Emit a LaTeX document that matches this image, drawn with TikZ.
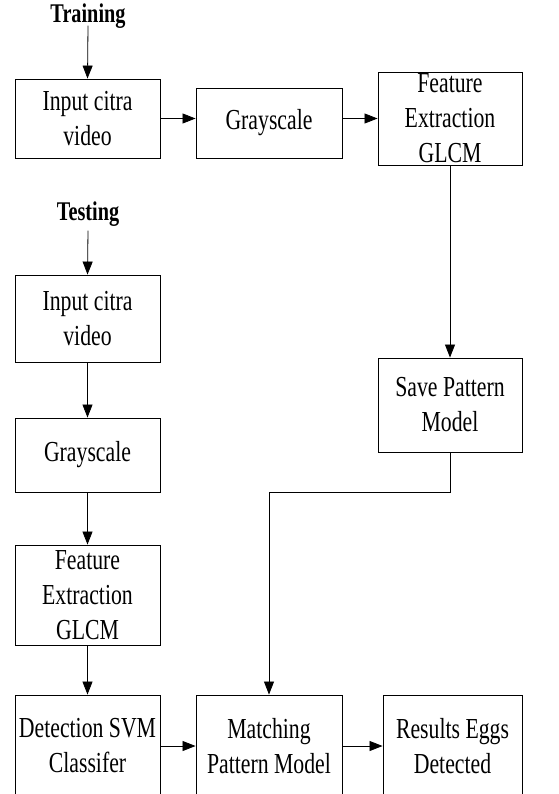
\documentclass[tikz,border=0pt]{standalone}
\usepackage{fontspec}
\setmainfont{Liberation Serif}[FakeStretch=0.75]
\usetikzlibrary{arrows.meta}
\begin{document}
\begin{tikzpicture}[x=1pt,y=-1pt,
  box/.style={draw,line width=0.9pt,inner sep=0pt,align=center,
    font=\fontsize{29}{35}\selectfont},
  lbl/.style={inner sep=0pt,font=\fontsize{27}{32}\selectfont\bfseries},
  arr/.style={line width=0.8pt,-{Triangle[length=13pt,width=10pt]}},
  ln/.style={line width=0.8pt}]
\useasboundingbox (0,0) rectangle (558,794);
\node[lbl] (tr) at (88,16) {Training};
\node[box,minimum width=145pt,minimum height=79pt] (b1) at (87.5,118.5) {Input citra\\video};
\node[box,minimum width=146pt,minimum height=70pt] (b2) at (269,123) {Grayscale};
\node[box,minimum width=144pt,minimum height=93pt] (b3) at (450,118.5) {Feature\\Extraction\\GLCM};
\node[lbl] (te) at (88,214) {Testing};
\node[box,minimum width=145pt,minimum height=87pt] (t1) at (87.5,318.5) {Input citra\\video};
\node[box,minimum width=145pt,minimum height=74pt] (t2) at (87.5,455) {Grayscale};
\node[box,minimum width=145pt,minimum height=100pt] (t3) at (87.5,595) {Feature\\Extraction\\GLCM};
\node[box,minimum width=144pt,minimum height=94pt] (s) at (450,405) {Save Pattern\\Model};
\node[box,minimum width=145pt,minimum height=102pt] (d) at (87.5,746) {Detection SVM\\Classifer};
\node[box,minimum width=146pt,minimum height=102pt] (m) at (269,746) {Matching\\Pattern Model};
\node[box,minimum width=139pt,minimum height=102pt] (r) at (452.5,746) {Results Eggs\\Detected};
\coordinate (c2) at (269,492);
\draw[arr] (tr.south) ++(0,-3) -- (b1.north);
\draw[arr] (b1.east) -- (b1.east -| b2.west);
\draw[arr] (b1.east -| b2.east) -- (b1.east -| b3.west);
\draw[arr] (b3.south) -- (s.north);
\draw[arr] (te.south) ++(0,4) -- (t1.north);
\draw[arr] (t1.south) -- (t2.north);
\draw[arr] (t2.south) -- (t3.north);
\draw[arr] (t3.south) -- (d.north);
\draw[arr] (d.east) -- (m.west);
\draw[arr] (m.east) -- (r.west);
\draw[arr] (s.south) -- (s.south |- c2) -- (c2) -- (m.north);
\end{tikzpicture}
\end{document}
